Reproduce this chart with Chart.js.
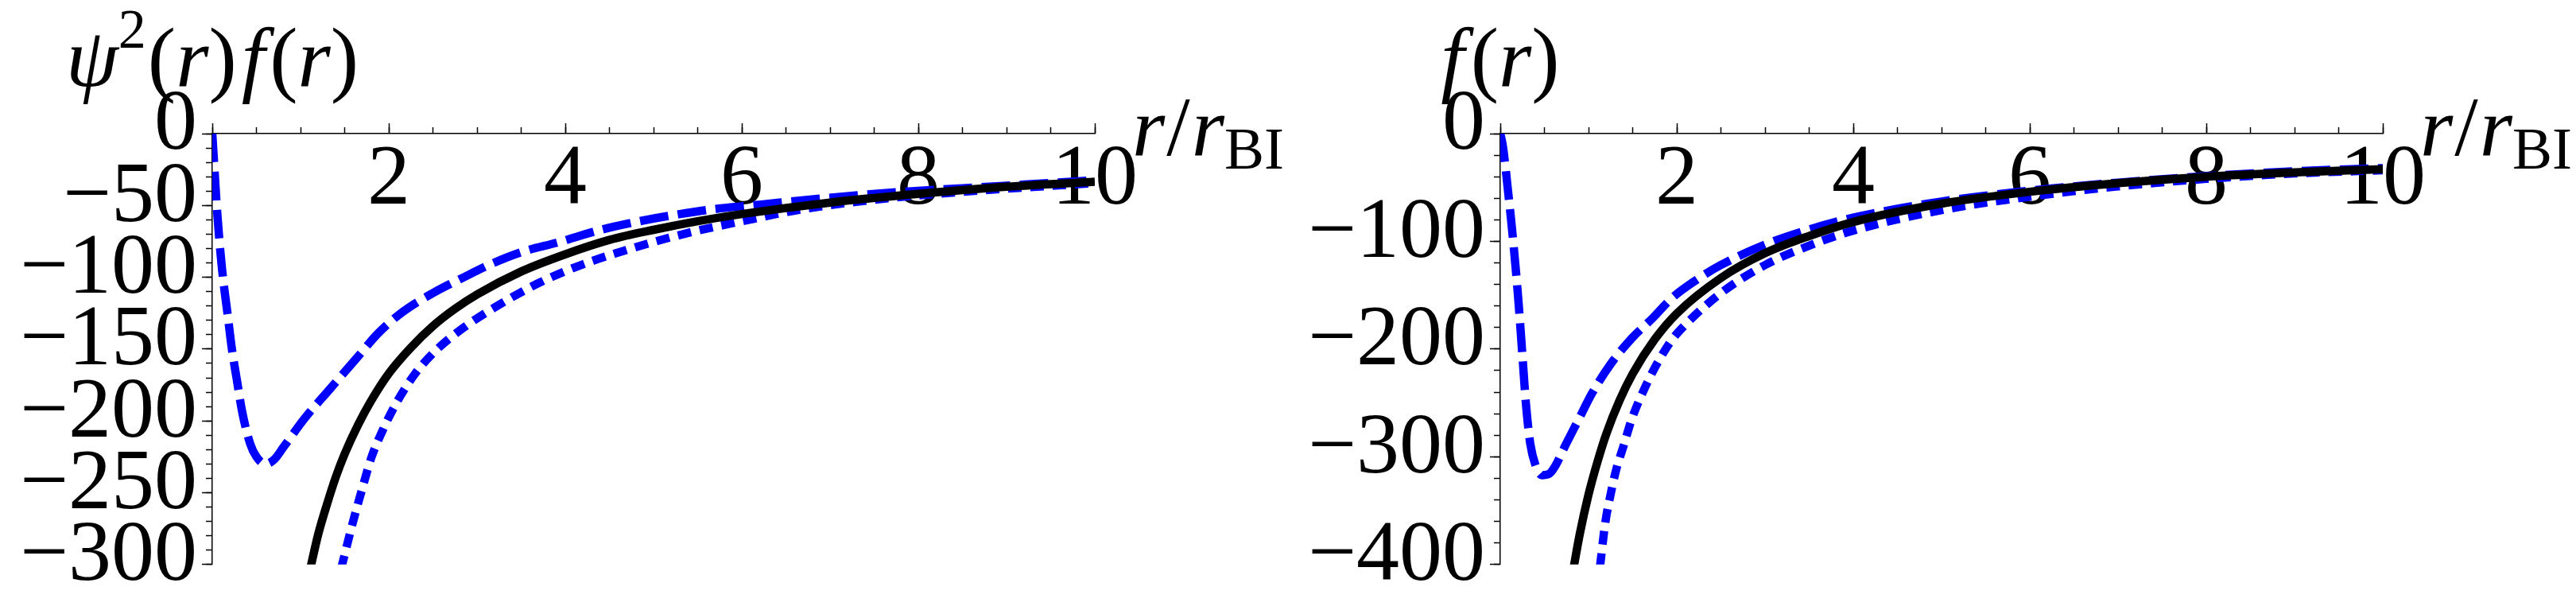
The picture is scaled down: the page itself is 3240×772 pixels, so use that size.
<!DOCTYPE html>
<html><head><meta charset="utf-8">
<script src="https://cdn.jsdelivr.net/npm/chart.js@4/dist/chart.umd.min.js"></script>
<style>
html,body{margin:0;padding:0;background:#fff;width:3240px;height:772px;overflow:hidden}
.panel{position:absolute;top:0;width:1620px;height:772px}
#p1{left:0}#p2{left:1620px}
.preload{position:absolute;left:-5000px;top:0;font-family:"Liberation Serif";font-size:40px}
</style></head><body>
<div class="preload"><span>0123456789 −BI/()</span><i>ψ f r</i></div>
<div class="panel" id="p1"><canvas id="c1" width="1620" height="772"></canvas></div>
<div class="panel" id="p2"><canvas id="c2" width="1620" height="772"></canvas></div>
<script>
// ---------- tick values / labels ----------
const X_MAJOR = [0, 2, 4, 6, 8, 10];
const X_LABELS = ['', '2', '4', '6', '8', '10'];
const X_MINOR = [0, 0.5, 1, 1.5, 2, 2.5, 3, 3.5, 4, 4.5, 5, 5.5, 6, 6.5, 7, 7.5, 8, 8.5, 9, 9.5, 10];

const L_Y_MAJOR = [0, -50, -100, -150, -200, -250, -300];
const L_Y_LABELS = ['0', '\u221250', '\u2212100', '\u2212150', '\u2212200', '\u2212250', '\u2212300'];
const L_Y_MINOR = [0, -10, -20, -30, -40, -50, -60, -70, -80, -90, -100, -110, -120, -130, -140, -150,
  -160, -170, -180, -190, -200, -210, -220, -230, -240, -250, -260, -270, -280, -290, -300];

const R_Y_MAJOR = [0, -100, -200, -300, -400];
const R_Y_LABELS = ['0', '\u2212100', '\u2212200', '\u2212300', '\u2212400'];
const R_Y_MINOR = [0, -20, -40, -60, -80, -100, -120, -140, -160, -180, -200, -220, -240, -260, -280,
  -300, -320, -340, -360, -380, -400];

// ---------- left panel: psi^2(r) f(r) ----------
const L_SOLID_R = [1.11, 1.2, 1.3, 1.4, 1.5, 1.65, 1.8, 2.0, 2.25, 2.5, 2.75, 3.0, 3.5, 4.0, 4.5, 5.0, 5.5, 6.0, 7.0, 8.0, 9.0, 10.0];
const L_SOLID_V = [-303, -279, -258, -239, -223, -203, -186, -167, -149, -134, -122, -112, -96, -84, -74, -67, -61, -56, -48, -42, -37, -33.5];

const L_DASH_R = [0, 0.025, 0.05, 0.08, 0.11, 0.14, 0.17, 0.22, 0.28, 0.34, 0.43, 0.5, 0.6, 0.7, 0.81, 1.05, 1.33, 1.64, 1.88, 2.16, 2.5, 2.85, 3.19, 3.53, 3.9, 4.4, 4.84, 5.3, 5.76, 6.2, 6.68, 7.6, 8.5, 9.2, 10];
const L_DASH_V = [0, -25, -50, -74, -94, -110, -124, -149, -172, -194, -216, -225, -230, -227, -218, -198, -178, -156, -139, -124, -111, -100, -90, -82, -76, -67, -61, -56, -52, -49.5, -46.5, -41.5, -38, -35.5, -32.5];

const L_DOT_R = [1.46, 1.5, 1.6, 1.7, 1.8, 1.95, 2.1, 2.3, 2.55, 2.85, 3.2, 3.7, 4.2, 4.8, 5.4, 6.0, 6.7, 7.5, 8.5, 9.2, 10];
const L_DOT_V = [-303, -293, -269, -247, -226, -204, -186, -167, -150, -135, -121, -104, -91, -79, -69, -61, -52.5, -46, -40.5, -37.5, -34.5];

// ---------- right panel: f(r) ----------
const R_SOLID_R = [0.82, 0.9, 1.0, 1.1, 1.2, 1.35, 1.5, 1.75, 2.0, 2.5, 3.0, 3.5, 4.0, 5.0, 6.0, 7.0, 8.0, 9.0, 10.0];
const R_SOLID_V = [-408, -372, -335, -305, -279, -248, -223, -191, -167, -134, -111, -95, -82, -65, -54, -46, -40, -36, -33];

const R_DASH_R = [0, 0.03, 0.06, 0.09, 0.12, 0.15, 0.18, 0.21, 0.25, 0.29, 0.34, 0.4, 0.47, 0.55, 0.62, 0.74, 0.89, 1.04, 1.25, 1.49, 1.73, 1.94, 2.2, 2.5, 3.0, 3.5, 4.0, 5.0, 6.0, 7.0, 8.0, 9.0, 10.0];
const R_DASH_V = [0, -12, -32, -55, -78, -103, -130, -160, -205, -250, -288, -308, -317, -316, -309, -289, -265, -241, -214, -190, -171, -153, -137, -122, -103, -89, -78, -63, -53, -45.5, -39.5, -35, -32];

const R_DOT_R = [1.13, 1.19, 1.25, 1.31, 1.4, 1.49, 1.61, 1.76, 1.94, 2.09, 2.5, 3.0, 3.5, 4.0, 5.0, 6.0, 7.0, 8.0, 9.0, 10.0];
const R_DOT_V = [-402, -361, -335, -313, -289, -265, -241, -216, -192, -178, -148, -122, -104, -90, -71, -58.5, -49, -42, -37, -34];

// ---------- styling ----------
const SERIF = '"Liberation Serif"';
const BLUE = '#0000ff';

const pts = (rs, vs) => rs.map((r, i) => ({x: r, y: vs[i]}));
const setTicks = arr => (s => { s.ticks = arr.map(v => ({value: v})); });

function fontStr(p) {
  return (p.it ? 'italic ' : '') + (p.size || 106) + 'px ' + SERIF;
}

const mathText = {
  id: 'mathText',
  afterDraw(chart, args, opts) {
    const ctx = chart.ctx;
    const xs = chart.scales.x, ys = chart.scales.y;
    const x0 = xs.getPixelForValue(0), x10 = xs.getPixelForValue(10), y0 = ys.getPixelForValue(0);
    ctx.save();
    ctx.fillStyle = '#000';
    ctx.textBaseline = 'alphabetic';
    ctx.textAlign = 'left';
    const run = (pieces, startX, base) => {
      let x = startX;
      pieces.forEach(p => {
        ctx.font = fontStr(p);
        ctx.fillText(p.t, x + (p.dx || 0), base - (p.rise || 0));
        x += ctx.measureText(p.t).width + (p.kern || 0);
      });
    };
    const width = pieces => pieces.reduce((a, p) => { ctx.font = fontStr(p); return a + ctx.measureText(p.t).width + (p.kern || 0); }, 0);
    const yt = opts.yTitle;
    run(yt, x0 - width(yt) / 2, y0 - 60);
    run(opts.xTitle, x10 + 47, y0 + 27);
    ctx.restore();
  }
};

const X_TITLE = [
  {t: 'r', it: true, kern: 2},
  {t: '/', kern: 2},
  {t: 'r', it: true},
  {t: 'BI', size: 75, rise: -17}
];
const L_Y_TITLE = [
  {t: '\u03C8', it: true},
  {t: '2', size: 70, rise: 48, kern: 2},
  {t: '('}, {t: 'r', it: true}, {t: ')', kern: 6},
  {t: 'f', it: true, kern: 6},
  {t: '('}, {t: 'r', it: true}, {t: ')'}
];
const R_Y_TITLE = [
  {t: 'f', it: true, kern: 8},
  {t: '('}, {t: 'r', it: true}, {t: ')'}
];

function makeChart(id, cfg) {
  const tickFont = {family: SERIF, size: 108, lineHeight: 1};
  const yFont = {family: SERIF, size: 108, lineHeight: 0.8};
  const tickAxis = (axis, min, max, arr, len, pos) => ({
    type: 'linear', axis, min, max, position: pos,
    afterBuildTicks: setTicks(arr),
    ticks: {display: false},
    grid: {display: true, drawOnChartArea: false, drawTicks: true, tickLength: len, tickColor: '#000', tickWidth: 1.5},
    border: {display: false}
  });
  return new Chart(document.getElementById(id), {
    type: 'scatter',
    data: {
      datasets: [
        {data: pts(cfg.solidR, cfg.solidV), borderColor: '#000', borderWidth: 10.5, order: 0,
         borderCapStyle: 'butt', borderJoinStyle: 'round'},
        {data: pts(cfg.dashR, cfg.dashV), borderColor: BLUE, borderWidth: 10.5, borderDash: [36, 12], order: 1,
         borderCapStyle: 'butt'},
        {data: pts(cfg.dotR, cfg.dotV), borderColor: BLUE, borderWidth: 10.5, borderDash: [17, 11], order: 2,
         borderCapStyle: 'butt'}
      ].map(d => Object.assign(d, {showLine: true, pointRadius: 0, fill: false, cubicInterpolationMode: 'monotone',
                                    xAxisID: 'x', yAxisID: 'y'}))
    },
    options: {
      responsive: false, animation: false, events: [],
      layout: {padding: {left: 0, top: 168, right: 243, bottom: 50}},
      plugins: {legend: {display: false}, tooltip: {enabled: false}, title: {display: false},
                mathText: {yTitle: cfg.yTitle, xTitle: X_TITLE}},
      scales: {
        x: {type: 'linear', axis: 'x', min: 0, max: 10, position: {y: 0},
            afterBuildTicks: setTicks(X_MAJOR),
            ticks: {callback: (v, i) => X_LABELS[i], font: tickFont, color: '#000', padding: 6,
                    autoSkip: false, maxRotation: 0, minRotation: 0},
            grid: {display: false, drawTicks: false},
            border: {display: true, color: '#000', width: 1.5}},
        y: {type: 'linear', axis: 'y', min: cfg.yMin, max: 0, position: 'left',
            afterBuildTicks: setTicks(cfg.yMajor),
            afterFit: s => { s.width = 267; },
            ticks: {callback: (v, i) => cfg.yLabels[i], font: yFont, color: '#000', padding: 19,
                    labelOffset: -9, autoSkip: false},
            grid: {display: false, drawTicks: false},
            border: {display: true, color: '#000', width: 1.5}},
        xMin: tickAxis('x', 0, 10, X_MINOR, -8, {y: 0}),
        xMaj: tickAxis('x', 0, 10, X_MAJOR, -13, {y: 0}),
        yMin: tickAxis('y', cfg.yMin, 0, cfg.yMinor, 8, {x: 0}),
        yMaj: tickAxis('y', cfg.yMin, 0, cfg.yMajor, 13, {x: 0})
      }
    },
    plugins: [mathText]
  });
}

function build() {
  Chart.defaults.font.family = SERIF;
  makeChart('c1', {solidR: L_SOLID_R, solidV: L_SOLID_V, dashR: L_DASH_R, dashV: L_DASH_V, dotR: L_DOT_R, dotV: L_DOT_V,
    yMin: -300, yMajor: L_Y_MAJOR, yLabels: L_Y_LABELS, yMinor: L_Y_MINOR, yTitle: L_Y_TITLE});
  makeChart('c2', {solidR: R_SOLID_R, solidV: R_SOLID_V, dashR: R_DASH_R, dashV: R_DASH_V, dotR: R_DOT_R, dotV: R_DOT_V,
    yMin: -400, yMajor: R_Y_MAJOR, yLabels: R_Y_LABELS, yMinor: R_Y_MINOR, yTitle: R_Y_TITLE});
}
Promise.all([
  document.fonts.load('108px "Liberation Serif"'),
  document.fonts.load('italic 106px "Liberation Serif"')
]).then(build, build);
</script>
</body></html>
